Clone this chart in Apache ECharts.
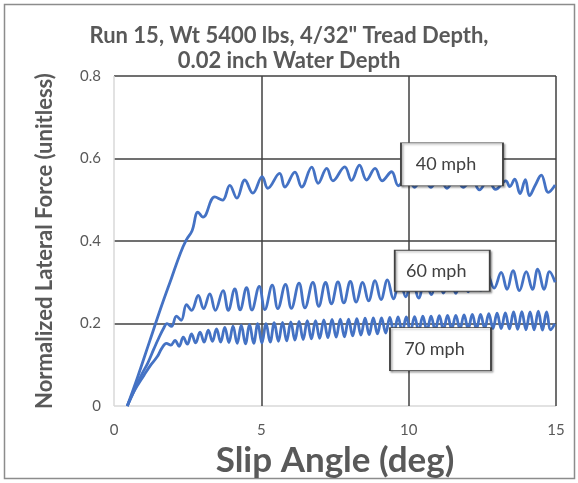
<!DOCTYPE html>
<html>
<head>
<meta charset="utf-8">
<script src="https://cdn.jsdelivr.net/npm/echarts@6/dist/echarts.min.js"></script>
<style>
  html, body { margin: 0; padding: 0; background: #fff; }
  #main { width: 578px; height: 483px; }
</style>
</head>
<body>
<div id="main"></div>
<script>
// slip angle (deg), normalized lateral force
var mph40 = [
  [0.45, 0], [0.8, 0.07], [1.2, 0.155], [1.6, 0.24], [1.95, 0.31], [2.25, 0.37], [2.45, 0.402], [2.65, 0.425],
  [2.85, 0.47], [3.02, 0.458], [3.42, 0.507], [3.68, 0.499], [3.93, 0.535], [4.17, 0.504], [4.44, 0.548],
  [4.71, 0.516], [5.03, 0.556], [5.22, 0.528], [5.62, 0.564], [5.8, 0.531], [6.14, 0.567], [6.37, 0.531],
  [6.71, 0.579], [6.93, 0.54], [7.22, 0.576], [7.43, 0.546], [7.83, 0.58], [8.06, 0.547], [8.33, 0.584],
  [8.57, 0.548], [8.86, 0.576], [9.1, 0.546], [9.42, 0.568], [9.65, 0.534], [9.95, 0.562], [10.2, 0.53],
  [10.5, 0.56], [10.75, 0.53], [11.05, 0.556], [11.3, 0.528], [11.6, 0.554], [11.85, 0.53], [12.15, 0.55],
  [12.4, 0.524], [12.7, 0.55], [12.95, 0.525], [13.3, 0.546], [13.43, 0.532], [13.6, 0.55], [13.78, 0.515],
  [13.96, 0.549], [14.1, 0.51], [14.3, 0.536], [14.5, 0.56], [14.74, 0.518], [14.97, 0.536]
];
var mph60 = [
  [0.45, 0], [0.7, 0.04], [0.95, 0.078], [1.15, 0.105], [1.35, 0.138], [1.52, 0.165], [1.68, 0.188], [1.8, 0.2],
  [1.95, 0.193], [2.12, 0.218], [2.28, 0.208], [2.46, 0.246], [2.63, 0.232], [2.86, 0.268], [3.04, 0.236],
  [3.25, 0.272], [3.44, 0.232], [3.7, 0.28], [3.88, 0.232], [4.1, 0.284], [4.28, 0.233], [4.5, 0.287],
  [4.68, 0.233], [4.93, 0.29], [5.12, 0.234], [5.37, 0.293], [5.56, 0.236], [5.82, 0.295], [6.02, 0.237],
  [6.28, 0.298], [6.48, 0.238], [6.75, 0.3], [6.95, 0.242], [7.18, 0.3], [7.38, 0.248], [7.6, 0.301],
  [7.8, 0.25], [8.02, 0.302], [8.22, 0.252], [8.44, 0.3], [8.64, 0.255], [8.86, 0.304], [9.06, 0.258],
  [9.28, 0.306], [9.48, 0.26], [9.7, 0.308], [9.9, 0.265], [10.12, 0.31], [10.34, 0.262], [10.56, 0.312],
  [10.77, 0.27], [10.98, 0.315], [11.18, 0.274], [11.4, 0.316], [11.6, 0.273], [11.82, 0.318], [12.02, 0.277],
  [12.24, 0.32], [12.45, 0.28], [12.66, 0.322], [12.9, 0.286], [13.14, 0.324], [13.34, 0.283], [13.54, 0.328],
  [13.76, 0.28], [13.99, 0.326], [14.2, 0.283], [14.38, 0.332], [14.6, 0.283], [14.78, 0.326], [14.97, 0.3]
];
var mph70 = [
  [0.45, 0], [0.68, 0.036], [1.02, 0.075], [1.25, 0.1], [1.47, 0.12], [1.62, 0.14], [1.78, 0.152], [1.93, 0.148],
  [2.07, 0.159], [2.21, 0.145], [2.35, 0.167], [2.49, 0.15], [2.63, 0.175], [2.77, 0.153], [2.92, 0.179],
  [3.06, 0.155], [3.2, 0.184], [3.34, 0.157], [3.48, 0.187], [3.62, 0.155], [3.76, 0.191], [3.9, 0.154],
  [4.04, 0.194], [4.18, 0.152], [4.32, 0.196], [4.46, 0.151], [4.6, 0.198], [4.74, 0.152], [4.88, 0.2],
  [5.02, 0.153], [5.16, 0.2], [5.3, 0.155], [5.44, 0.202], [5.58, 0.157], [5.72, 0.203], [5.86, 0.158],
  [6.0, 0.204], [6.14, 0.16], [6.28, 0.205], [6.42, 0.161], [6.56, 0.207], [6.7, 0.163], [6.84, 0.207],
  [6.98, 0.164], [7.12, 0.209], [7.26, 0.166], [7.4, 0.21], [7.54, 0.167], [7.68, 0.211], [7.82, 0.168],
  [7.96, 0.211], [8.1, 0.17], [8.24, 0.212], [8.38, 0.172], [8.52, 0.213], [8.66, 0.173], [8.8, 0.214],
  [8.94, 0.175], [9.08, 0.214], [9.22, 0.177], [9.36, 0.215], [9.5, 0.178], [9.64, 0.216], [9.78, 0.18],
  [9.92, 0.216], [10.06, 0.181], [10.2, 0.217], [10.34, 0.182], [10.48, 0.218], [10.62, 0.183], [10.76, 0.218],
  [10.9, 0.184], [11.04, 0.219], [11.18, 0.185], [11.32, 0.22], [11.46, 0.186], [11.6, 0.22], [11.74, 0.186],
  [11.88, 0.221], [12.02, 0.187], [12.16, 0.222], [12.3, 0.187], [12.44, 0.222], [12.58, 0.188], [12.72, 0.224],
  [12.86, 0.188], [13.0, 0.225], [13.14, 0.188], [13.28, 0.226], [13.42, 0.187], [13.56, 0.228], [13.7, 0.186],
  [13.84, 0.229], [13.98, 0.185], [14.12, 0.228], [14.26, 0.185], [14.4, 0.23], [14.54, 0.184], [14.68, 0.228],
  [14.82, 0.185], [14.96, 0.2]
];
// label boxes: text and where they sit (data coords)
var boxNames = ['40 mph', '60 mph', '70 mph'];
var boxCoords = [[11.47, 0.586], [11.14, 0.328], [11.08, 0.138]];
var boxSizes = [[102, 43], [95, 41], [101, 43]];

var FONT = 'Lato, "Open Sans", sans-serif';
var BLUE = '#4472C4';
var TXT = '#595959';

var myChart = echarts.init(document.getElementById('main'));

function lineSeries(name, data, i) {
  return {
    name: name,
    type: 'line',
    data: data,
    smooth: 0.4,
    symbol: 'none',
    lineStyle: { color: BLUE, width: 2.8 },
    markPoint: {
      symbol: 'rect',
      symbolSize: boxSizes[i],
      itemStyle: {
        color: '#fff',
        borderColor: '#404040',
        borderWidth: 1.2,
        shadowColor: 'rgba(0,0,0,0.35)',
        shadowBlur: 2,
        shadowOffsetX: 1.5,
        shadowOffsetY: 1.5
      },
      label: {
        show: true,
        position: 'inside',
        formatter: '{b}',
        color: '#404040',
        fontSize: 18,
        fontFamily: FONT,
        offset: [-6, 0]
      },
      data: [{ name: boxNames[i], coord: boxCoords[i] }]
    }
  };
}

var option = {
  animation: false,
  backgroundColor: '#fff',
  title: {
    text: 'Run 15, Wt 5400 lbs, 4/32" Tread Depth,\n0.02 inch Water Depth',
    left: 'center',
    top: 18,
    textStyle: {
      fontFamily: FONT,
      fontSize: 22,
      fontWeight: 'bold',
      color: TXT,
      lineHeight: 25
    }
  },
  graphic: [{
    type: 'rect',
    shape: { x: 4.5, y: 4.5, width: 570, height: 474 },
    style: { fill: 'none', stroke: '#8c8c8c', lineWidth: 1.5 },
    silent: true
  }],
  grid: { left: 114, right: 22, top: 76, bottom: 75 },
  xAxis: {
    type: 'value',
    min: 0,
    max: 15,
    interval: 5,
    name: 'Slip Angle (deg)',
    nameLocation: 'middle',
    nameGap: 34,
    nameTextStyle: { fontFamily: FONT, fontSize: 35, fontWeight: 'bold', color: TXT },
    axisLine: { show: false },
    axisTick: { show: false },
    axisLabel: { color: TXT, fontSize: 15, fontFamily: FONT, margin: 17 },
    splitLine: {
      show: true,
      lineStyle: { color: ['#d9d9d9', '#404040', '#404040', '#404040'], width: 1.5 }
    }
  },
  yAxis: {
    type: 'value',
    min: 0,
    max: 0.8,
    interval: 0.2,
    name: 'Normalized Lateral Force (unitless)',
    nameLocation: 'middle',
    nameGap: 58,
    nameTextStyle: { fontFamily: FONT, fontSize: 22, fontWeight: 'bold', color: TXT },
    axisLine: { show: false },
    axisTick: { show: false },
    axisLabel: { color: TXT, fontSize: 15, fontFamily: FONT, margin: 13 },
    splitLine: {
      show: true,
      lineStyle: { color: ['#d9d9d9', '#404040', '#404040', '#404040', '#404040'], width: 1.5 }
    }
  },
  series: [
    lineSeries('40 mph', mph40, 0),
    lineSeries('60 mph', mph60, 1),
    lineSeries('70 mph', mph70, 2)
  ]
};
myChart.setOption(option);
</script>
</body>
</html>
